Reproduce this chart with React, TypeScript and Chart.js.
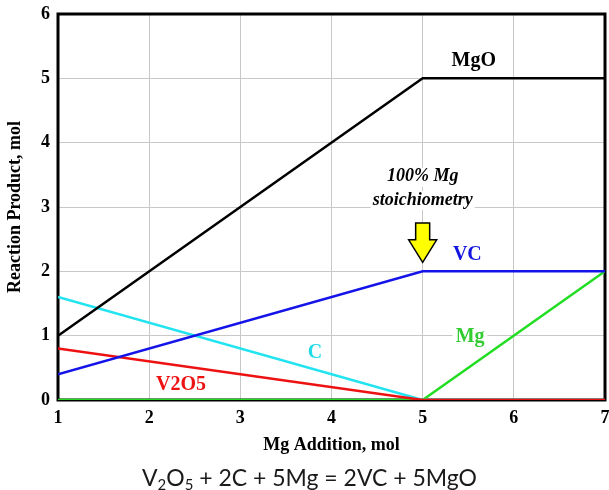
import { useEffect, useRef } from 'react';
import { Chart, registerables } from 'chart.js';

Chart.register(...registerables);

// ---- data ----
const mgAddition = [1, 5, 7];
const mgOValues = [1, 5, 5];
const vcValues = [0.4, 2, 2];
const v2o5Values = [0.8, 0, 0];
const carbonValues = [1.6, 0, 0];
const mgValues = [0, 0, 2];

const seriesNames = ['MgO', 'VC', 'V2O5', 'C', 'Mg'];
const seriesColors = ['#000000', '#1414e8', '#ee1111', '#22e3f0', '#22dd22'];
const labelColors = ['#000000', '#1414e0', '#ee1111', '#22dbe8', '#33cc33'];
// label anchor points in data units (x, y)
const labelX = [5.56, 5.49, 2.35, 3.82, 5.52];
const labelY = [5.27, 2.25, 0.23, 0.73, 0.98];

const noteLines = ['100% Mg', 'stoichiometry'];
const noteX = 5;
const noteY = [3.47, 3.11];
const arrowX = 5;
const arrowTop = 2.75;
const arrowHeadBase = 2.49;
const arrowTip = 2.14;

const xTitle = 'Mg Addition, mol';
const yTitle = 'Reaction Product, mol';

const SERIF = '"Liberation Serif", "Times New Roman", serif';

const decorPlugin = {
  id: 'decor',
  beforeDatasetsDraw(chart: any) {
    const { ctx, chartArea: a } = chart;
    ctx.save();
    ctx.strokeStyle = '#000';
    ctx.lineWidth = 3;
    ctx.strokeRect(a.left, a.top, a.right - a.left, a.bottom - a.top);
    ctx.restore();
  },
  afterDatasetsDraw(chart: any) {
    const { ctx } = chart;
    const xs = chart.scales.x;
    const ys = chart.scales.y;
    ctx.save();
    ctx.textAlign = 'center';
    ctx.textBaseline = 'middle';
    // series labels
    ctx.font = `bold 20px ${SERIF}`;
    seriesNames.forEach((name, i) => {
      const px = xs.getPixelForValue(labelX[i]);
      const py = ys.getPixelForValue(labelY[i]);
      if (name === 'Mg') {
        const w = ctx.measureText(name).width;
        ctx.fillStyle = '#fff';
        ctx.fillRect(px - w / 2 - 3, py - 10, w + 6, 20);
      }
      ctx.fillStyle = labelColors[i];
      ctx.fillText(name, px, py);
    });
    // note text
    ctx.font = `italic bold 18px ${SERIF}`;
    noteLines.forEach((line, i) => {
      const px = xs.getPixelForValue(noteX);
      const py = ys.getPixelForValue(noteY[i]);
      const w = ctx.measureText(line).width;
      ctx.fillStyle = '#fff';
      ctx.fillRect(px - w / 2 - 2, py - 9, w + 4, 19);
      ctx.fillStyle = '#000';
      ctx.fillText(line, px, py);
    });
    // arrow
    const ax = xs.getPixelForValue(arrowX);
    const top = ys.getPixelForValue(arrowTop);
    const base = ys.getPixelForValue(arrowHeadBase);
    const tip = ys.getPixelForValue(arrowTip);
    ctx.beginPath();
    ctx.moveTo(ax - 7, top);
    ctx.lineTo(ax + 7, top);
    ctx.lineTo(ax + 7, base);
    ctx.lineTo(ax + 14, base);
    ctx.lineTo(ax, tip);
    ctx.lineTo(ax - 14, base);
    ctx.lineTo(ax - 7, base);
    ctx.closePath();
    ctx.fillStyle = '#ffff00';
    ctx.fill();
    ctx.strokeStyle = '#000';
    ctx.lineWidth = 1.5;
    ctx.lineJoin = 'miter';
    ctx.stroke();
    ctx.restore();
  },
  afterDraw(chart: any) {
    const { ctx } = chart;
    ctx.save();
    const fam = 'Lato, "Open Sans", sans-serif';
    const parts: [string, boolean][] = [
      ['V', false], ['2', true], ['O', false], ['5', true], [' + 2C + 5Mg = 2VC + 5MgO', false],
    ];
    const measure = (size: number) => {
      let w = 0;
      parts.forEach(([t, sub]) => {
        ctx.font = `${sub ? size * 0.65 : size}px ${fam}`;
        w += ctx.measureText(t).width;
      });
      return w;
    };
    const targetW = 335;
    const size = 24 * targetW / measure(24);
    const total = measure(size);
    let x = 309.5 - total / 2;
    const baseline = 486;
    ctx.fillStyle = '#1a1a1a';
    ctx.textAlign = 'left';
    ctx.textBaseline = 'alphabetic';
    parts.forEach(([t, sub]) => {
      ctx.font = `${sub ? size * 0.65 : size}px ${fam}`;
      ctx.fillText(t, x, sub ? baseline + size * 0.18 : baseline);
      x += ctx.measureText(t).width;
    });
    ctx.restore();
  },
};

export default function App() {
  const ref = useRef<HTMLCanvasElement | null>(null);

  useEffect(() => {
    document.body.style.margin = '0';
    const canvas = ref.current;
    if (!canvas) return;
    const seriesValues = [mgOValues, vcValues, v2o5Values, carbonValues, mgValues];
    const chart = new Chart(canvas, {
      type: 'line',
      data: {
        datasets: seriesNames.map((name, i) => ({
          label: name,
          data: mgAddition.map((x, j) => ({ x, y: seriesValues[i][j] })),
          borderColor: seriesColors[i],
          backgroundColor: seriesColors[i],
          borderWidth: 2.5,
          pointRadius: 0,
          tension: 0,
          fill: false,
        })),
      },
      options: {
        animation: false,
        responsive: false,
        devicePixelRatio: 1,
        layout: { padding: { top: 14, right: 4, left: 0, bottom: 0 } },
        plugins: {
          legend: { display: false },
          tooltip: { enabled: false },
          title: { display: false },
        },
        scales: {
          x: {
            type: 'linear',
            min: 1,
            max: 7,
            ticks: {
              stepSize: 1,
              color: '#000',
              padding: 8,
              font: { family: SERIF, size: 18, weight: 'bold' },
            },
            grid: { color: '#c8c8c8', lineWidth: 1, drawTicks: false },
            border: { display: false },
            title: {
              display: true,
              text: xTitle,
              color: '#000',
              font: { family: SERIF, size: 18, weight: 'bold' },
              padding: { top: 0, bottom: 34 },
            },
            afterFit(scale: any) {
              scale.height = 90;
              scale.paddingLeft = 0;
              scale.paddingRight = 0;
            },
          },
          y: {
            type: 'linear',
            min: 0,
            max: 6,
            ticks: {
              stepSize: 1,
              color: '#000',
              padding: 8,
              font: { family: SERIF, size: 18, weight: 'bold' },
            },
            grid: { color: '#c8c8c8', lineWidth: 1, drawTicks: false },
            border: { display: false },
            title: {
              display: true,
              text: yTitle,
              color: '#000',
              font: { family: SERIF, size: 18, weight: 'bold' },
              padding: { top: 5, bottom: 0 },
            },
            afterFit(scale: any) {
              scale.width = 58;
              scale.paddingTop = 0;
              scale.paddingBottom = 0;
            },
          },
        },
      },
      plugins: [decorPlugin],
    } as any);
    return () => chart.destroy();
  }, []);

  return (
    <div style={{ width: 609, height: 490, background: '#fff' }}>
      <canvas ref={ref} width={609} height={490} style={{ display: 'block' }} />
    </div>
  );
}
